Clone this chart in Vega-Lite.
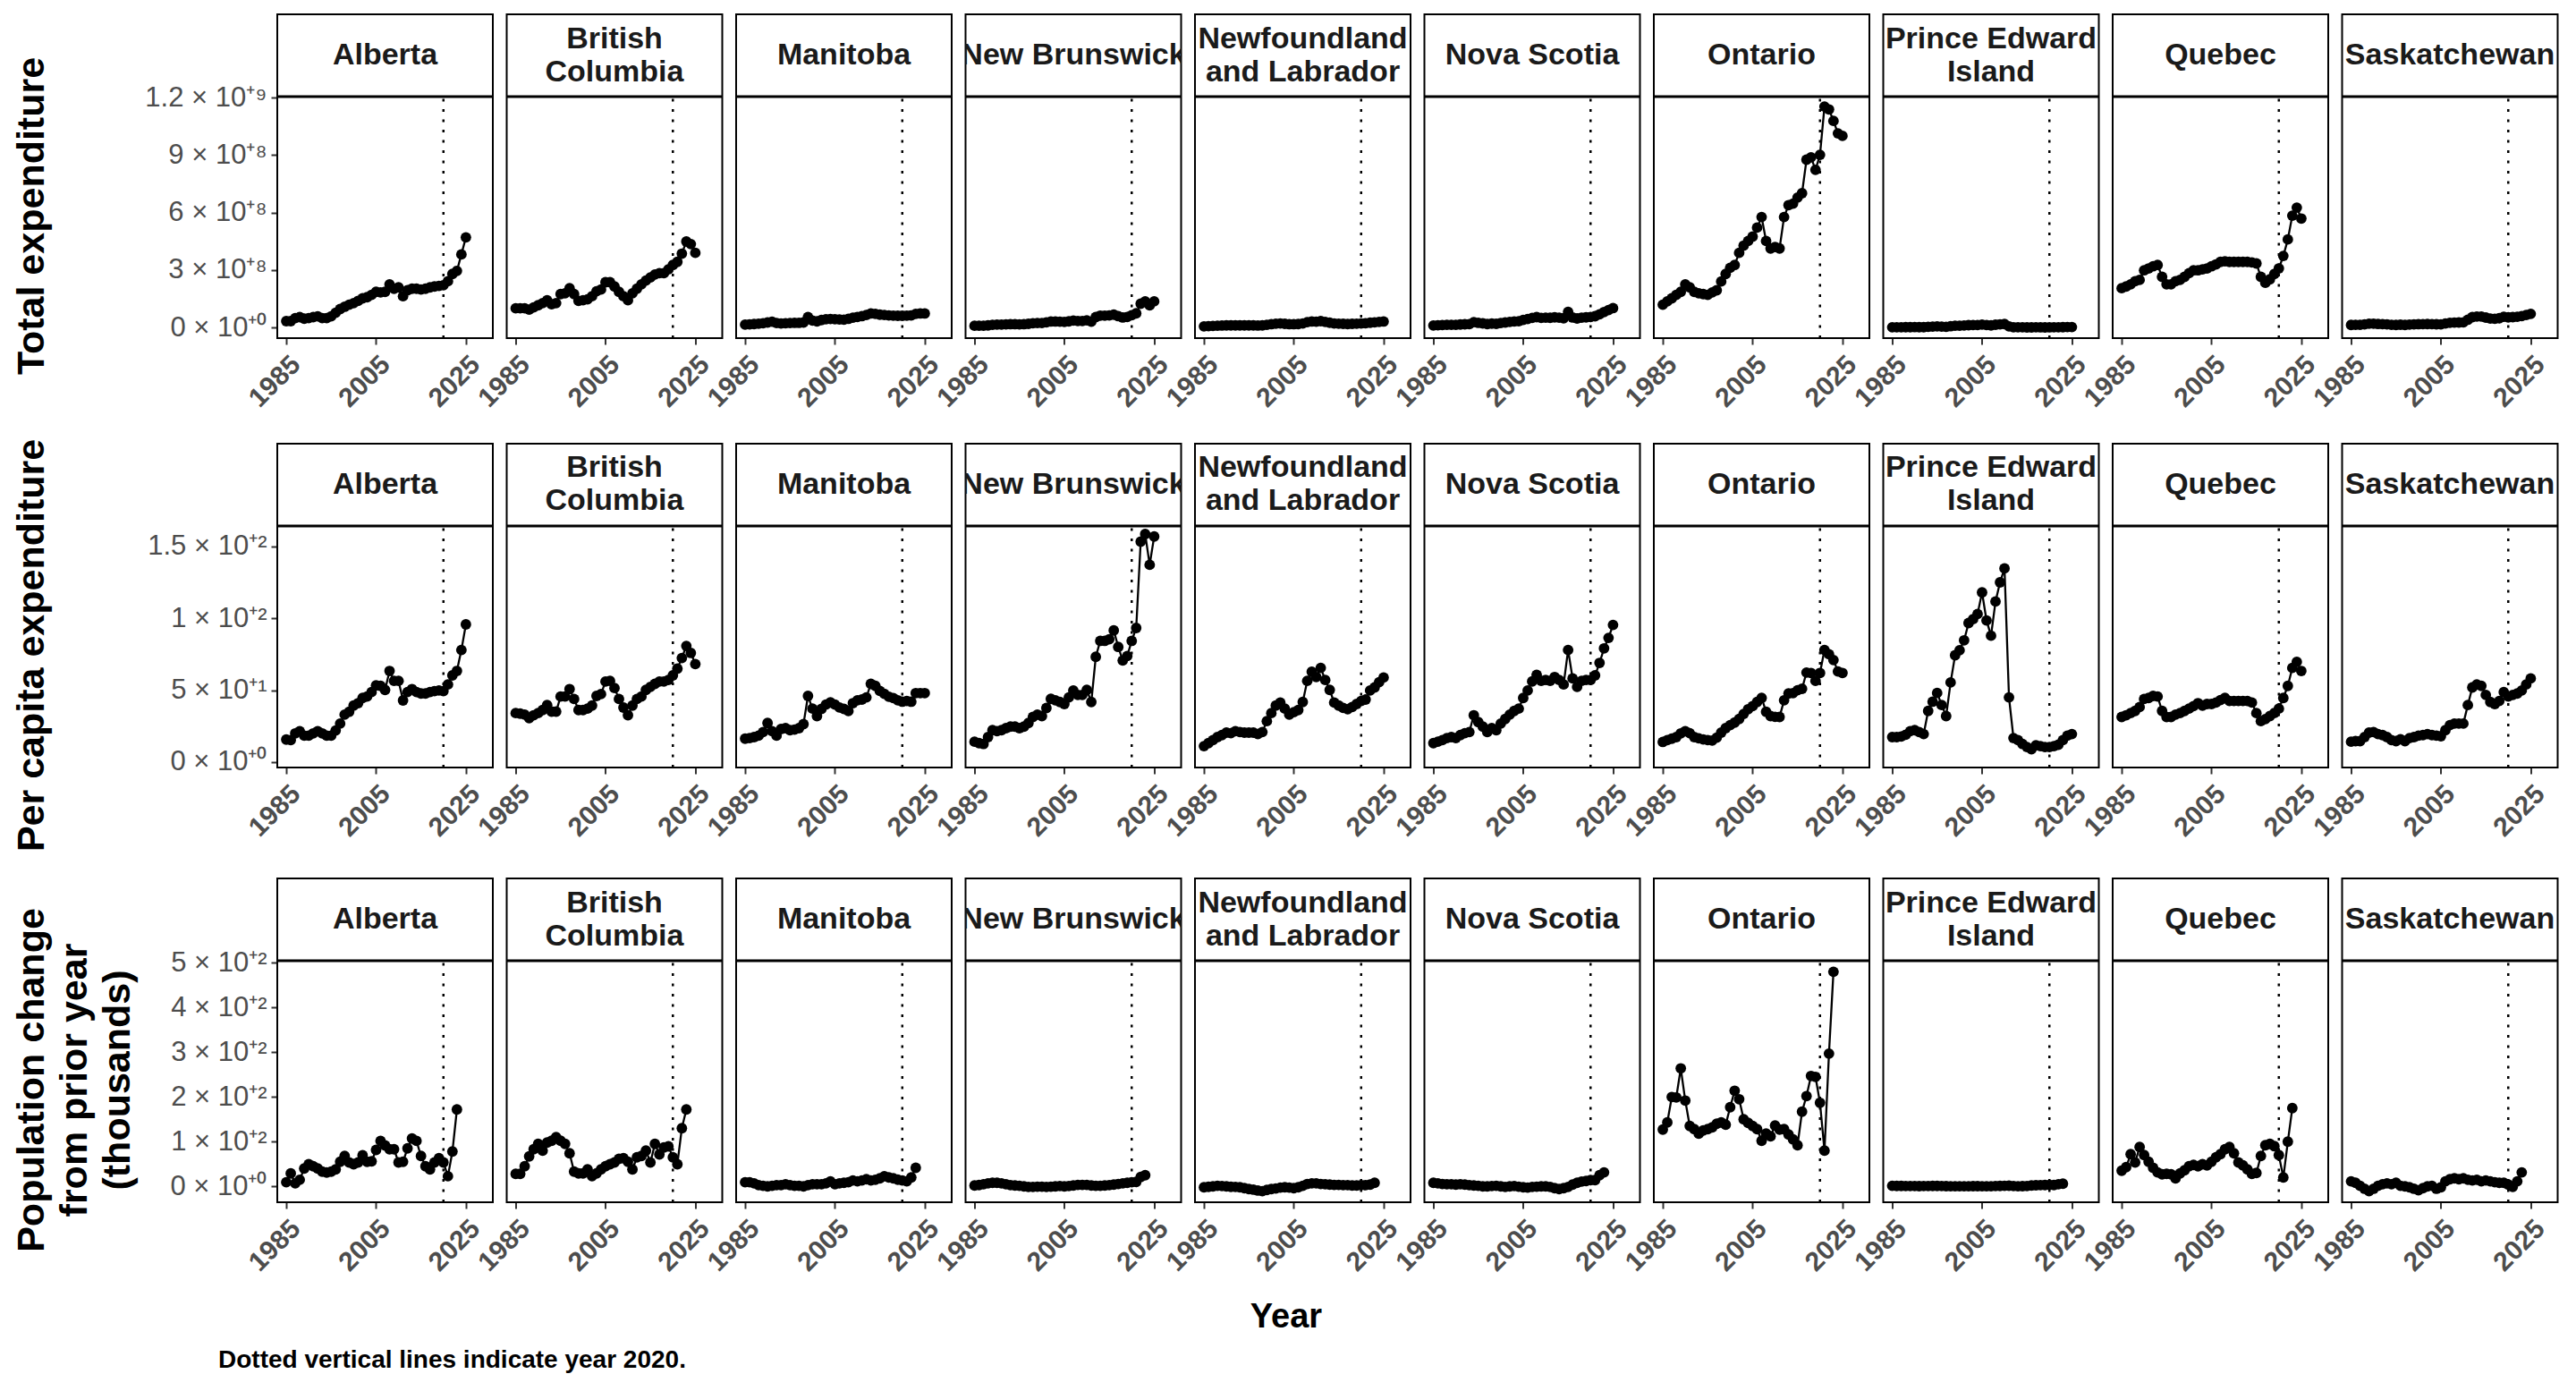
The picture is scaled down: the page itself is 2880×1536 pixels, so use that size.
{
"$schema":"https://vega.github.io/schema/vega-lite/v6.json",
"background":"white",
"padding":{"left":14,"top":15,"right":0,"bottom":0},
"config":{"font":"Liberation Sans","view":{"stroke":"black","strokeWidth":2},
"axis":{"domain":false,"grid":false,"tickColor":"#333333","tickWidth":2,"tickSize":7,"labelColor":"#4d4d4d"},
"axisX":{"labelFontSize":30,"labelFontWeight":"bold","labelAngle":-45,"labelAlign":"right","labelBaseline":"top","labelPadding":7,"labelFlush":false,"labelOverlap":false,"title":null},
"axisY":{"labelFontSize":31,"labelPadding":5,"labelOverlap":false,"titleFontSize":43,"titleFontWeight":"bold","titleColor":"black","titleX":-296,"titleY":225,"titleAngle":-90,"titleAlign":"center","titleBaseline":"top","titleLineHeight":48}},
"spacing":29,
"resolve":{"scale":{"y":"independent"}},
"title":{"text":"Dotted vertical lines indicate year 2020.","orient":"bottom","anchor":"start","frame":"bounds","dx":230,"fontSize":28,"fontWeight":"bold","color":"black","offset":15},
"datasets":{
"total":[
{"prov":"AB","year":1985,"val":34e6},{"prov":"AB","year":1986,"val":34e6},{"prov":"AB","year":1987,"val":50e6},{"prov":"AB","year":1988,"val":55e6},{"prov":"AB","year":1989,"val":47e6},{"prov":"AB","year":1990,"val":50e6},{"prov":"AB","year":1991,"val":55e6},{"prov":"AB","year":1992,"val":59e6},{"prov":"AB","year":1993,"val":50e6},{"prov":"AB","year":1994,"val":50e6},{"prov":"AB","year":1995,"val":59e6},{"prov":"AB","year":1996,"val":78e6},{"prov":"AB","year":1997,"val":97e6},{"prov":"AB","year":1998,"val":109e6},{"prov":"AB","year":1999,"val":120e6},{"prov":"AB","year":2000,"val":128e6},{"prov":"AB","year":2001,"val":140e6},{"prov":"AB","year":2002,"val":153e6},{"prov":"AB","year":2003,"val":159e6},{"prov":"AB","year":2004,"val":171e6},{"prov":"AB","year":2005,"val":187e6},{"prov":"AB","year":2006,"val":184e6},{"prov":"AB","year":2007,"val":187e6},{"prov":"AB","year":2008,"val":226e6},{"prov":"AB","year":2009,"val":203e6},{"prov":"AB","year":2010,"val":210e6},{"prov":"AB","year":2011,"val":164e6},{"prov":"AB","year":2012,"val":195e6},{"prov":"AB","year":2013,"val":203e6},{"prov":"AB","year":2014,"val":203e6},{"prov":"AB","year":2015,"val":199e6},{"prov":"AB","year":2016,"val":203e6},{"prov":"AB","year":2017,"val":210e6},{"prov":"AB","year":2018,"val":215e6},{"prov":"AB","year":2019,"val":218e6},{"prov":"AB","year":2020,"val":221e6},{"prov":"AB","year":2021,"val":242e6},{"prov":"AB","year":2022,"val":280e6},{"prov":"AB","year":2023,"val":296e6},{"prov":"AB","year":2024,"val":382e6},{"prov":"AB","year":2025,"val":471e6},
{"prov":"BC","year":1985,"val":101e6},{"prov":"BC","year":1986,"val":101e6},{"prov":"BC","year":1987,"val":101e6},{"prov":"BC","year":1988,"val":94e6},{"prov":"BC","year":1989,"val":106e6},{"prov":"BC","year":1990,"val":117e6},{"prov":"BC","year":1991,"val":128e6},{"prov":"BC","year":1992,"val":143e6},{"prov":"BC","year":1993,"val":122e6},{"prov":"BC","year":1994,"val":128e6},{"prov":"BC","year":1995,"val":175e6},{"prov":"BC","year":1996,"val":179e6},{"prov":"BC","year":1997,"val":206e6},{"prov":"BC","year":1998,"val":175e6},{"prov":"BC","year":1999,"val":140e6},{"prov":"BC","year":2000,"val":143e6},{"prov":"BC","year":2001,"val":148e6},{"prov":"BC","year":2002,"val":164e6},{"prov":"BC","year":2003,"val":190e6},{"prov":"BC","year":2004,"val":199e6},{"prov":"BC","year":2005,"val":237e6},{"prov":"BC","year":2006,"val":237e6},{"prov":"BC","year":2007,"val":215e6},{"prov":"BC","year":2008,"val":187e6},{"prov":"BC","year":2009,"val":164e6},{"prov":"BC","year":2010,"val":143e6},{"prov":"BC","year":2011,"val":179e6},{"prov":"BC","year":2012,"val":203e6},{"prov":"BC","year":2013,"val":226e6},{"prov":"BC","year":2014,"val":246e6},{"prov":"BC","year":2015,"val":262e6},{"prov":"BC","year":2016,"val":277e6},{"prov":"BC","year":2017,"val":284e6},{"prov":"BC","year":2018,"val":284e6},{"prov":"BC","year":2019,"val":304e6},{"prov":"BC","year":2020,"val":327e6},{"prov":"BC","year":2021,"val":343e6},{"prov":"BC","year":2022,"val":386e6},{"prov":"BC","year":2023,"val":449e6},{"prov":"BC","year":2024,"val":436e6},{"prov":"BC","year":2025,"val":390e6},
{"prov":"MB","year":1985,"val":16e6},{"prov":"MB","year":1986,"val":17e6},{"prov":"MB","year":1987,"val":19e6},{"prov":"MB","year":1988,"val":21e6},{"prov":"MB","year":1989,"val":23e6},{"prov":"MB","year":1990,"val":27e6},{"prov":"MB","year":1991,"val":31e6},{"prov":"MB","year":1992,"val":24e6},{"prov":"MB","year":1993,"val":22e6},{"prov":"MB","year":1994,"val":23e6},{"prov":"MB","year":1995,"val":24e6},{"prov":"MB","year":1996,"val":25e6},{"prov":"MB","year":1997,"val":25e6},{"prov":"MB","year":1998,"val":27e6},{"prov":"MB","year":1999,"val":55e6},{"prov":"MB","year":2000,"val":37e6},{"prov":"MB","year":2001,"val":33e6},{"prov":"MB","year":2002,"val":40e6},{"prov":"MB","year":2003,"val":44e6},{"prov":"MB","year":2004,"val":45e6},{"prov":"MB","year":2005,"val":44e6},{"prov":"MB","year":2006,"val":43e6},{"prov":"MB","year":2007,"val":42e6},{"prov":"MB","year":2008,"val":46e6},{"prov":"MB","year":2009,"val":52e6},{"prov":"MB","year":2010,"val":56e6},{"prov":"MB","year":2011,"val":60e6},{"prov":"MB","year":2012,"val":66e6},{"prov":"MB","year":2013,"val":74e6},{"prov":"MB","year":2014,"val":72e6},{"prov":"MB","year":2015,"val":68e6},{"prov":"MB","year":2016,"val":66e6},{"prov":"MB","year":2017,"val":64e6},{"prov":"MB","year":2018,"val":63e6},{"prov":"MB","year":2019,"val":62e6},{"prov":"MB","year":2020,"val":62e6},{"prov":"MB","year":2021,"val":63e6},{"prov":"MB","year":2022,"val":64e6},{"prov":"MB","year":2023,"val":72e6},{"prov":"MB","year":2024,"val":74e6},{"prov":"MB","year":2025,"val":74e6},
{"prov":"NB","year":1985,"val":10e6},{"prov":"NB","year":1986,"val":10e6},{"prov":"NB","year":1987,"val":10e6},{"prov":"NB","year":1988,"val":12e6},{"prov":"NB","year":1989,"val":15e6},{"prov":"NB","year":1990,"val":16e6},{"prov":"NB","year":1991,"val":16e6},{"prov":"NB","year":1992,"val":17e6},{"prov":"NB","year":1993,"val":18e6},{"prov":"NB","year":1994,"val":18e6},{"prov":"NB","year":1995,"val":17e6},{"prov":"NB","year":1996,"val":18e6},{"prov":"NB","year":1997,"val":20e6},{"prov":"NB","year":1998,"val":23e6},{"prov":"NB","year":1999,"val":24e6},{"prov":"NB","year":2000,"val":24e6},{"prov":"NB","year":2001,"val":28e6},{"prov":"NB","year":2002,"val":32e6},{"prov":"NB","year":2003,"val":32e6},{"prov":"NB","year":2004,"val":31e6},{"prov":"NB","year":2005,"val":30e6},{"prov":"NB","year":2006,"val":33e6},{"prov":"NB","year":2007,"val":37e6},{"prov":"NB","year":2008,"val":35e6},{"prov":"NB","year":2009,"val":35e6},{"prov":"NB","year":2010,"val":38e6},{"prov":"NB","year":2011,"val":31e6},{"prov":"NB","year":2012,"val":55e6},{"prov":"NB","year":2013,"val":63e6},{"prov":"NB","year":2014,"val":63e6},{"prov":"NB","year":2015,"val":64e6},{"prov":"NB","year":2016,"val":68e6},{"prov":"NB","year":2017,"val":60e6},{"prov":"NB","year":2018,"val":53e6},{"prov":"NB","year":2019,"val":56e6},{"prov":"NB","year":2020,"val":65e6},{"prov":"NB","year":2021,"val":75e6},{"prov":"NB","year":2022,"val":125e6},{"prov":"NB","year":2023,"val":137e6},{"prov":"NB","year":2024,"val":117e6},{"prov":"NB","year":2025,"val":137e6},
{"prov":"NL","year":1985,"val":7e6},{"prov":"NL","year":1986,"val":8e6},{"prov":"NL","year":1987,"val":9e6},{"prov":"NL","year":1988,"val":10e6},{"prov":"NL","year":1989,"val":11e6},{"prov":"NL","year":1990,"val":12e6},{"prov":"NL","year":1991,"val":12e6},{"prov":"NL","year":1992,"val":12e6},{"prov":"NL","year":1993,"val":12e6},{"prov":"NL","year":1994,"val":12e6},{"prov":"NL","year":1995,"val":12e6},{"prov":"NL","year":1996,"val":12e6},{"prov":"NL","year":1997,"val":11e6},{"prov":"NL","year":1998,"val":12e6},{"prov":"NL","year":1999,"val":15e6},{"prov":"NL","year":2000,"val":18e6},{"prov":"NL","year":2001,"val":21e6},{"prov":"NL","year":2002,"val":22e6},{"prov":"NL","year":2003,"val":20e6},{"prov":"NL","year":2004,"val":18e6},{"prov":"NL","year":2005,"val":18e6},{"prov":"NL","year":2006,"val":19e6},{"prov":"NL","year":2007,"val":22e6},{"prov":"NL","year":2008,"val":29e6},{"prov":"NL","year":2009,"val":32e6},{"prov":"NL","year":2010,"val":31e6},{"prov":"NL","year":2011,"val":34e6},{"prov":"NL","year":2012,"val":30e6},{"prov":"NL","year":2013,"val":26e6},{"prov":"NL","year":2014,"val":22e6},{"prov":"NL","year":2015,"val":21e6},{"prov":"NL","year":2016,"val":20e6},{"prov":"NL","year":2017,"val":19e6},{"prov":"NL","year":2018,"val":20e6},{"prov":"NL","year":2019,"val":21e6},{"prov":"NL","year":2020,"val":22e6},{"prov":"NL","year":2021,"val":23e6},{"prov":"NL","year":2022,"val":26e6},{"prov":"NL","year":2023,"val":28e6},{"prov":"NL","year":2024,"val":30e6},{"prov":"NL","year":2025,"val":32e6},
{"prov":"NS","year":1985,"val":11.5e6},{"prov":"NS","year":1986,"val":12.4e6},{"prov":"NS","year":1987,"val":13.4e6},{"prov":"NS","year":1988,"val":14.6e6},{"prov":"NS","year":1989,"val":15.2e6},{"prov":"NS","year":1990,"val":14.7e6},{"prov":"NS","year":1991,"val":16.6e6},{"prov":"NS","year":1992,"val":17.8e6},{"prov":"NS","year":1993,"val":18.6e6},{"prov":"NS","year":1994,"val":29e6},{"prov":"NS","year":1995,"val":25e6},{"prov":"NS","year":1996,"val":22.3e6},{"prov":"NS","year":1997,"val":18.9e6},{"prov":"NS","year":1998,"val":21.3e6},{"prov":"NS","year":1999,"val":20e6},{"prov":"NS","year":2000,"val":24.2e6},{"prov":"NS","year":2001,"val":27.1e6},{"prov":"NS","year":2002,"val":29.8e6},{"prov":"NS","year":2003,"val":32.2e6},{"prov":"NS","year":2004,"val":33.7e6},{"prov":"NS","year":2005,"val":40.4e6},{"prov":"NS","year":2006,"val":45.1e6},{"prov":"NS","year":2007,"val":50.8e6},{"prov":"NS","year":2008,"val":55e6},{"prov":"NS","year":2009,"val":51.3e6},{"prov":"NS","year":2010,"val":52e6},{"prov":"NS","year":2011,"val":51.6e6},{"prov":"NS","year":2012,"val":54e6},{"prov":"NS","year":2013,"val":52e6},{"prov":"NS","year":2014,"val":49.2e6},{"prov":"NS","year":2015,"val":82e6},{"prov":"NS","year":2016,"val":53e6},{"prov":"NS","year":2017,"val":48e6},{"prov":"NS","year":2018,"val":52.5e6},{"prov":"NS","year":2019,"val":54e6},{"prov":"NS","year":2020,"val":55.7e6},{"prov":"NS","year":2021,"val":59.8e6},{"prov":"NS","year":2022,"val":69.9e6},{"prov":"NS","year":2023,"val":81.7e6},{"prov":"NS","year":2024,"val":91.6e6},{"prov":"NS","year":2025,"val":102e6},
{"prov":"ON","year":1985,"val":120e6},{"prov":"ON","year":1986,"val":137e6},{"prov":"ON","year":1987,"val":153e6},{"prov":"ON","year":1988,"val":171e6},{"prov":"ON","year":1989,"val":187e6},{"prov":"ON","year":1990,"val":226e6},{"prov":"ON","year":1991,"val":210e6},{"prov":"ON","year":1992,"val":187e6},{"prov":"ON","year":1993,"val":179e6},{"prov":"ON","year":1994,"val":175e6},{"prov":"ON","year":1995,"val":171e6},{"prov":"ON","year":1996,"val":184e6},{"prov":"ON","year":1997,"val":195e6},{"prov":"ON","year":1998,"val":241e6},{"prov":"ON","year":1999,"val":280e6},{"prov":"ON","year":2000,"val":312e6},{"prov":"ON","year":2001,"val":327e6},{"prov":"ON","year":2002,"val":390e6},{"prov":"ON","year":2003,"val":428e6},{"prov":"ON","year":2004,"val":452e6},{"prov":"ON","year":2005,"val":475e6},{"prov":"ON","year":2006,"val":522e6},{"prov":"ON","year":2007,"val":577e6},{"prov":"ON","year":2008,"val":452e6},{"prov":"ON","year":2009,"val":413e6},{"prov":"ON","year":2010,"val":421e6},{"prov":"ON","year":2011,"val":413e6},{"prov":"ON","year":2012,"val":577e6},{"prov":"ON","year":2013,"val":639e6},{"prov":"ON","year":2014,"val":647e6},{"prov":"ON","year":2015,"val":678e6},{"prov":"ON","year":2016,"val":701e6},{"prov":"ON","year":2017,"val":876e6},{"prov":"ON","year":2018,"val":888e6},{"prov":"ON","year":2019,"val":823e6},{"prov":"ON","year":2020,"val":901e6},{"prov":"ON","year":2021,"val":1153e6},{"prov":"ON","year":2022,"val":1138e6},{"prov":"ON","year":2023,"val":1078e6},{"prov":"ON","year":2024,"val":1013e6},{"prov":"ON","year":2025,"val":1000e6},
{"prov":"PE","year":1985,"val":2.2e6},{"prov":"PE","year":1986,"val":2.2e6},{"prov":"PE","year":1987,"val":2.3e6},{"prov":"PE","year":1988,"val":2.5e6},{"prov":"PE","year":1989,"val":2.8e6},{"prov":"PE","year":1990,"val":2.9e6},{"prov":"PE","year":1991,"val":2.7e6},{"prov":"PE","year":1992,"val":2.6e6},{"prov":"PE","year":1993,"val":4.7e6},{"prov":"PE","year":1994,"val":5.6e6},{"prov":"PE","year":1995,"val":6.5e6},{"prov":"PE","year":1996,"val":5.4e6},{"prov":"PE","year":1997,"val":4.3e6},{"prov":"PE","year":1998,"val":7.5e6},{"prov":"PE","year":1999,"val":10e6},{"prov":"PE","year":2000,"val":10.5e6},{"prov":"PE","year":2001,"val":11.5e6},{"prov":"PE","year":2002,"val":13.1e6},{"prov":"PE","year":2003,"val":13.5e6},{"prov":"PE","year":2004,"val":14e6},{"prov":"PE","year":2005,"val":16e6},{"prov":"PE","year":2006,"val":13.4e6},{"prov":"PE","year":2007,"val":12e6},{"prov":"PE","year":2008,"val":15.3e6},{"prov":"PE","year":2009,"val":17.3e6},{"prov":"PE","year":2010,"val":18.9e6},{"prov":"PE","year":2011,"val":6.4e6},{"prov":"PE","year":2012,"val":2.4e6},{"prov":"PE","year":2013,"val":2.2e6},{"prov":"PE","year":2014,"val":1.8e6},{"prov":"PE","year":2015,"val":1.5e6},{"prov":"PE","year":2016,"val":1.3e6},{"prov":"PE","year":2017,"val":1.8e6},{"prov":"PE","year":2018,"val":1.7e6},{"prov":"PE","year":2019,"val":1.6e6},{"prov":"PE","year":2020,"val":1.7e6},{"prov":"PE","year":2021,"val":1.8e6},{"prov":"PE","year":2022,"val":2e6},{"prov":"PE","year":2023,"val":2.6e6},{"prov":"PE","year":2024,"val":3.2e6},{"prov":"PE","year":2025,"val":3.4e6},
{"prov":"QC","year":1985,"val":206e6},{"prov":"QC","year":1986,"val":215e6},{"prov":"QC","year":1987,"val":226e6},{"prov":"QC","year":1988,"val":242e6},{"prov":"QC","year":1989,"val":249e6},{"prov":"QC","year":1990,"val":299e6},{"prov":"QC","year":1991,"val":309e6},{"prov":"QC","year":1992,"val":320e6},{"prov":"QC","year":1993,"val":327e6},{"prov":"QC","year":1994,"val":265e6},{"prov":"QC","year":1995,"val":226e6},{"prov":"QC","year":1996,"val":226e6},{"prov":"QC","year":1997,"val":242e6},{"prov":"QC","year":1998,"val":249e6},{"prov":"QC","year":1999,"val":265e6},{"prov":"QC","year":2000,"val":284e6},{"prov":"QC","year":2001,"val":299e6},{"prov":"QC","year":2002,"val":299e6},{"prov":"QC","year":2003,"val":304e6},{"prov":"QC","year":2004,"val":309e6},{"prov":"QC","year":2005,"val":320e6},{"prov":"QC","year":2006,"val":330e6},{"prov":"QC","year":2007,"val":343e6},{"prov":"QC","year":2008,"val":346e6},{"prov":"QC","year":2009,"val":343e6},{"prov":"QC","year":2010,"val":343e6},{"prov":"QC","year":2011,"val":343e6},{"prov":"QC","year":2012,"val":343e6},{"prov":"QC","year":2013,"val":343e6},{"prov":"QC","year":2014,"val":340e6},{"prov":"QC","year":2015,"val":335e6},{"prov":"QC","year":2016,"val":265e6},{"prov":"QC","year":2017,"val":234e6},{"prov":"QC","year":2018,"val":252e6},{"prov":"QC","year":2019,"val":280e6},{"prov":"QC","year":2020,"val":309e6},{"prov":"QC","year":2021,"val":374e6},{"prov":"QC","year":2022,"val":460e6},{"prov":"QC","year":2023,"val":584e6},{"prov":"QC","year":2024,"val":626e6},{"prov":"QC","year":2025,"val":569e6},
{"prov":"SK","year":1985,"val":14.4e6},{"prov":"SK","year":1986,"val":14.8e6},{"prov":"SK","year":1987,"val":14.8e6},{"prov":"SK","year":1988,"val":17.5e6},{"prov":"SK","year":1989,"val":20.5e6},{"prov":"SK","year":1990,"val":20.6e6},{"prov":"SK","year":1991,"val":19.2e6},{"prov":"SK","year":1992,"val":18.5e6},{"prov":"SK","year":1993,"val":17.1e6},{"prov":"SK","year":1994,"val":15e6},{"prov":"SK","year":1995,"val":14.3e6},{"prov":"SK","year":1996,"val":15.6e6},{"prov":"SK","year":1997,"val":14.3e6},{"prov":"SK","year":1998,"val":16.4e6},{"prov":"SK","year":1999,"val":17.1e6},{"prov":"SK","year":2000,"val":18e6},{"prov":"SK","year":2001,"val":18.3e6},{"prov":"SK","year":2002,"val":18.9e6},{"prov":"SK","year":2003,"val":18.3e6},{"prov":"SK","year":2004,"val":17.9e6},{"prov":"SK","year":2005,"val":17.5e6},{"prov":"SK","year":2006,"val":21.6e6},{"prov":"SK","year":2007,"val":25.2e6},{"prov":"SK","year":2008,"val":26.5e6},{"prov":"SK","year":2009,"val":27e6},{"prov":"SK","year":2010,"val":27.6e6},{"prov":"SK","year":2011,"val":41.3e6},{"prov":"SK","year":2012,"val":55e6},{"prov":"SK","year":2013,"val":58e6},{"prov":"SK","year":2014,"val":58e6},{"prov":"SK","year":2015,"val":52.8e6},{"prov":"SK","year":2016,"val":47.6e6},{"prov":"SK","year":2017,"val":46.5e6},{"prov":"SK","year":2018,"val":49.3e6},{"prov":"SK","year":2019,"val":56.9e6},{"prov":"SK","year":2020,"val":53.8e6},{"prov":"SK","year":2021,"val":55.1e6},{"prov":"SK","year":2022,"val":56.8e6},{"prov":"SK","year":2023,"val":60.2e6},{"prov":"SK","year":2024,"val":66.4e6},{"prov":"SK","year":2025,"val":72.2e6}
],
"percap":[
{"prov":"AB","year":1985,"val":15.7},{"prov":"AB","year":1986,"val":15.3},{"prov":"AB","year":1987,"val":20},{"prov":"AB","year":1988,"val":21.5},{"prov":"AB","year":1989,"val":18.4},{"prov":"AB","year":1990,"val":18.4},{"prov":"AB","year":1991,"val":20},{"prov":"AB","year":1992,"val":21.5},{"prov":"AB","year":1993,"val":20},{"prov":"AB","year":1994,"val":18.4},{"prov":"AB","year":1995,"val":18.4},{"prov":"AB","year":1996,"val":22},{"prov":"AB","year":1997,"val":26.8},{"prov":"AB","year":1998,"val":33},{"prov":"AB","year":1999,"val":35},{"prov":"AB","year":2000,"val":39.3},{"prov":"AB","year":2001,"val":41},{"prov":"AB","year":2002,"val":44.6},{"prov":"AB","year":2003,"val":45.6},{"prov":"AB","year":2004,"val":48.7},{"prov":"AB","year":2005,"val":53.3},{"prov":"AB","year":2006,"val":53},{"prov":"AB","year":2007,"val":50.2},{"prov":"AB","year":2008,"val":63.4},{"prov":"AB","year":2009,"val":56.5},{"prov":"AB","year":2010,"val":56.5},{"prov":"AB","year":2011,"val":42.9},{"prov":"AB","year":2012,"val":48.7},{"prov":"AB","year":2013,"val":50.8},{"prov":"AB","year":2014,"val":48.7},{"prov":"AB","year":2015,"val":47.7},{"prov":"AB","year":2016,"val":47.7},{"prov":"AB","year":2017,"val":48.7},{"prov":"AB","year":2018,"val":49.4},{"prov":"AB","year":2019,"val":49.8},{"prov":"AB","year":2020,"val":49.4},{"prov":"AB","year":2021,"val":54},{"prov":"AB","year":2022,"val":60.3},{"prov":"AB","year":2023,"val":63.4},{"prov":"AB","year":2024,"val":78},{"prov":"AB","year":2025,"val":95.8},
{"prov":"BC","year":1985,"val":34.1},{"prov":"BC","year":1986,"val":33.7},{"prov":"BC","year":1987,"val":33},{"prov":"BC","year":1988,"val":30.5},{"prov":"BC","year":1989,"val":32.6},{"prov":"BC","year":1990,"val":34.1},{"prov":"BC","year":1991,"val":36.2},{"prov":"BC","year":1992,"val":39.7},{"prov":"BC","year":1993,"val":35.1},{"prov":"BC","year":1994,"val":35.1},{"prov":"BC","year":1995,"val":45.6},{"prov":"BC","year":1996,"val":45.6},{"prov":"BC","year":1997,"val":50.8},{"prov":"BC","year":1998,"val":43.9},{"prov":"BC","year":1999,"val":36.2},{"prov":"BC","year":2000,"val":36.2},{"prov":"BC","year":2001,"val":37.2},{"prov":"BC","year":2002,"val":39.3},{"prov":"BC","year":2003,"val":46},{"prov":"BC","year":2004,"val":47.3},{"prov":"BC","year":2005,"val":56},{"prov":"BC","year":2006,"val":56.5},{"prov":"BC","year":2007,"val":51.5},{"prov":"BC","year":2008,"val":43.9},{"prov":"BC","year":2009,"val":37.9},{"prov":"BC","year":2010,"val":32.6},{"prov":"BC","year":2011,"val":39.3},{"prov":"BC","year":2012,"val":43.9},{"prov":"BC","year":2013,"val":45.6},{"prov":"BC","year":2014,"val":50.2},{"prov":"BC","year":2015,"val":52.3},{"prov":"BC","year":2016,"val":54.4},{"prov":"BC","year":2017,"val":56},{"prov":"BC","year":2018,"val":56},{"prov":"BC","year":2019,"val":57.1},{"prov":"BC","year":2020,"val":60.3},{"prov":"BC","year":2021,"val":65},{"prov":"BC","year":2022,"val":72.4},{"prov":"BC","year":2023,"val":80.8},{"prov":"BC","year":2024,"val":75.9},{"prov":"BC","year":2025,"val":68.2},
{"prov":"MB","year":1985,"val":16.3},{"prov":"MB","year":1986,"val":16.7},{"prov":"MB","year":1987,"val":17.4},{"prov":"MB","year":1988,"val":18.4},{"prov":"MB","year":1989,"val":20.9},{"prov":"MB","year":1990,"val":27.2},{"prov":"MB","year":1991,"val":21.5},{"prov":"MB","year":1992,"val":18.4},{"prov":"MB","year":1993,"val":23},{"prov":"MB","year":1994,"val":23.6},{"prov":"MB","year":1995,"val":22.2},{"prov":"MB","year":1996,"val":22.6},{"prov":"MB","year":1997,"val":23.6},{"prov":"MB","year":1998,"val":26.4},{"prov":"MB","year":1999,"val":46},{"prov":"MB","year":2000,"val":37.2},{"prov":"MB","year":2001,"val":32},{"prov":"MB","year":2002,"val":37},{"prov":"MB","year":2003,"val":40},{"prov":"MB","year":2004,"val":41.5},{"prov":"MB","year":2005,"val":40},{"prov":"MB","year":2006,"val":38},{"prov":"MB","year":2007,"val":37},{"prov":"MB","year":2008,"val":35.5},{"prov":"MB","year":2009,"val":41},{"prov":"MB","year":2010,"val":43},{"prov":"MB","year":2011,"val":43.5},{"prov":"MB","year":2012,"val":45},{"prov":"MB","year":2013,"val":54.4},{"prov":"MB","year":2014,"val":53},{"prov":"MB","year":2015,"val":49.5},{"prov":"MB","year":2016,"val":47.5},{"prov":"MB","year":2017,"val":45.5},{"prov":"MB","year":2018,"val":44.5},{"prov":"MB","year":2019,"val":43},{"prov":"MB","year":2020,"val":42},{"prov":"MB","year":2021,"val":42.5},{"prov":"MB","year":2022,"val":42},{"prov":"MB","year":2023,"val":48},{"prov":"MB","year":2024,"val":48},{"prov":"MB","year":2025,"val":48},
{"prov":"NB","year":1985,"val":14.2},{"prov":"NB","year":1986,"val":13.2},{"prov":"NB","year":1987,"val":12.6},{"prov":"NB","year":1988,"val":17.4},{"prov":"NB","year":1989,"val":22.2},{"prov":"NB","year":1990,"val":21.5},{"prov":"NB","year":1991,"val":22.2},{"prov":"NB","year":1992,"val":23.6},{"prov":"NB","year":1993,"val":24.7},{"prov":"NB","year":1994,"val":24.7},{"prov":"NB","year":1995,"val":23.6},{"prov":"NB","year":1996,"val":24.7},{"prov":"NB","year":1997,"val":27.2},{"prov":"NB","year":1998,"val":31.4},{"prov":"NB","year":1999,"val":33},{"prov":"NB","year":2000,"val":32},{"prov":"NB","year":2001,"val":37.6},{"prov":"NB","year":2002,"val":44},{"prov":"NB","year":2003,"val":43},{"prov":"NB","year":2004,"val":41.8},{"prov":"NB","year":2005,"val":40.4},{"prov":"NB","year":2006,"val":45},{"prov":"NB","year":2007,"val":49.8},{"prov":"NB","year":2008,"val":46.7},{"prov":"NB","year":2009,"val":46.7},{"prov":"NB","year":2010,"val":50.2},{"prov":"NB","year":2011,"val":41.8},{"prov":"NB","year":2012,"val":73.2},{"prov":"NB","year":2013,"val":84.3},{"prov":"NB","year":2014,"val":84.3},{"prov":"NB","year":2015,"val":85.4},{"prov":"NB","year":2016,"val":91.6},{"prov":"NB","year":2017,"val":80.1},{"prov":"NB","year":2018,"val":70.7},{"prov":"NB","year":2019,"val":73.8},{"prov":"NB","year":2020,"val":84.3},{"prov":"NB","year":2021,"val":93.3},{"prov":"NB","year":2022,"val":153.3},{"prov":"NB","year":2023,"val":158.6},{"prov":"NB","year":2024,"val":137.2},{"prov":"NB","year":2025,"val":156.9},
{"prov":"NL","year":1985,"val":11.1},{"prov":"NL","year":1986,"val":13.2},{"prov":"NL","year":1987,"val":15.3},{"prov":"NL","year":1988,"val":17.4},{"prov":"NL","year":1989,"val":18.8},{"prov":"NL","year":1990,"val":20.5},{"prov":"NL","year":1991,"val":20.1},{"prov":"NL","year":1992,"val":21.5},{"prov":"NL","year":1993,"val":20.9},{"prov":"NL","year":1994,"val":20.5},{"prov":"NL","year":1995,"val":20.5},{"prov":"NL","year":1996,"val":20.5},{"prov":"NL","year":1997,"val":19.5},{"prov":"NL","year":1998,"val":20.9},{"prov":"NL","year":1999,"val":28.5},{"prov":"NL","year":2000,"val":34.1},{"prov":"NL","year":2001,"val":39.3},{"prov":"NL","year":2002,"val":41.4},{"prov":"NL","year":2003,"val":37.2},{"prov":"NL","year":2004,"val":33},{"prov":"NL","year":2005,"val":34.7},{"prov":"NL","year":2006,"val":36.2},{"prov":"NL","year":2007,"val":41.8},{"prov":"NL","year":2008,"val":56.5},{"prov":"NL","year":2009,"val":62.8},{"prov":"NL","year":2010,"val":59.2},{"prov":"NL","year":2011,"val":65.5},{"prov":"NL","year":2012,"val":57.1},{"prov":"NL","year":2013,"val":50.2},{"prov":"NL","year":2014,"val":41.4},{"prov":"NL","year":2015,"val":39.3},{"prov":"NL","year":2016,"val":37.7},{"prov":"NL","year":2017,"val":36.8},{"prov":"NL","year":2018,"val":38.3},{"prov":"NL","year":2019,"val":40.4},{"prov":"NL","year":2020,"val":42.5},{"prov":"NL","year":2021,"val":43.5},{"prov":"NL","year":2022,"val":49.8},{"prov":"NL","year":2023,"val":51.9},{"prov":"NL","year":2024,"val":55.6},{"prov":"NL","year":2025,"val":58.8},
{"prov":"NS","year":1985,"val":13.2},{"prov":"NS","year":1986,"val":14.2},{"prov":"NS","year":1987,"val":15.3},{"prov":"NS","year":1988,"val":16.7},{"prov":"NS","year":1989,"val":17.4},{"prov":"NS","year":1990,"val":16.7},{"prov":"NS","year":1991,"val":18.8},{"prov":"NS","year":1992,"val":20.1},{"prov":"NS","year":1993,"val":20.9},{"prov":"NS","year":1994,"val":32.6},{"prov":"NS","year":1995,"val":27.8},{"prov":"NS","year":1996,"val":24.7},{"prov":"NS","year":1997,"val":20.9},{"prov":"NS","year":1998,"val":23.6},{"prov":"NS","year":1999,"val":22.2},{"prov":"NS","year":2000,"val":26.8},{"prov":"NS","year":2001,"val":30},{"prov":"NS","year":2002,"val":33},{"prov":"NS","year":2003,"val":35.6},{"prov":"NS","year":2004,"val":37.2},{"prov":"NS","year":2005,"val":44.6},{"prov":"NS","year":2006,"val":49.8},{"prov":"NS","year":2007,"val":56.1},{"prov":"NS","year":2008,"val":60.7},{"prov":"NS","year":2009,"val":56.5},{"prov":"NS","year":2010,"val":57.1},{"prov":"NS","year":2011,"val":56.5},{"prov":"NS","year":2012,"val":59.2},{"prov":"NS","year":2013,"val":57.1},{"prov":"NS","year":2014,"val":54},{"prov":"NS","year":2015,"val":78},{"prov":"NS","year":2016,"val":58.2},{"prov":"NS","year":2017,"val":52.3},{"prov":"NS","year":2018,"val":56.5},{"prov":"NS","year":2019,"val":57.1},{"prov":"NS","year":2020,"val":57.1},{"prov":"NS","year":2021,"val":60.3},{"prov":"NS","year":2022,"val":69},{"prov":"NS","year":2023,"val":79.1},{"prov":"NS","year":2024,"val":86.4},{"prov":"NS","year":2025,"val":95.4},
{"prov":"ON","year":1985,"val":14},{"prov":"ON","year":1986,"val":15.3},{"prov":"ON","year":1987,"val":16.3},{"prov":"ON","year":1988,"val":17.4},{"prov":"ON","year":1989,"val":20},{"prov":"ON","year":1990,"val":21.5},{"prov":"ON","year":1991,"val":20.1},{"prov":"ON","year":1992,"val":17.4},{"prov":"ON","year":1993,"val":16.5},{"prov":"ON","year":1994,"val":15.8},{"prov":"ON","year":1995,"val":15.3},{"prov":"ON","year":1996,"val":15},{"prov":"ON","year":1997,"val":17},{"prov":"ON","year":1998,"val":20.5},{"prov":"ON","year":1999,"val":23.6},{"prov":"ON","year":2000,"val":25.7},{"prov":"ON","year":2001,"val":27.5},{"prov":"ON","year":2002,"val":30},{"prov":"ON","year":2003,"val":33.5},{"prov":"ON","year":2004,"val":36.8},{"prov":"ON","year":2005,"val":38.9},{"prov":"ON","year":2006,"val":41.8},{"prov":"ON","year":2007,"val":44.6},{"prov":"ON","year":2008,"val":35},{"prov":"ON","year":2009,"val":32},{"prov":"ON","year":2010,"val":31.5},{"prov":"ON","year":2011,"val":31.4},{"prov":"ON","year":2012,"val":43},{"prov":"ON","year":2013,"val":47.7},{"prov":"ON","year":2014,"val":48},{"prov":"ON","year":2015,"val":50},{"prov":"ON","year":2016,"val":51},{"prov":"ON","year":2017,"val":62.3},{"prov":"ON","year":2018,"val":62},{"prov":"ON","year":2019,"val":56.5},{"prov":"ON","year":2020,"val":62},{"prov":"ON","year":2021,"val":78},{"prov":"ON","year":2022,"val":75},{"prov":"ON","year":2023,"val":71},{"prov":"ON","year":2024,"val":63},{"prov":"ON","year":2025,"val":62},
{"prov":"PE","year":1985,"val":17.4},{"prov":"PE","year":1986,"val":17.4},{"prov":"PE","year":1987,"val":17.8},{"prov":"PE","year":1988,"val":19},{"prov":"PE","year":1989,"val":21.5},{"prov":"PE","year":1990,"val":22.2},{"prov":"PE","year":1991,"val":20.9},{"prov":"PE","year":1992,"val":19.5},{"prov":"PE","year":1993,"val":35.6},{"prov":"PE","year":1994,"val":42},{"prov":"PE","year":1995,"val":48.1},{"prov":"PE","year":1996,"val":39.7},{"prov":"PE","year":1997,"val":32},{"prov":"PE","year":1998,"val":55.4},{"prov":"PE","year":1999,"val":74.3},{"prov":"PE","year":2000,"val":77.8},{"prov":"PE","year":2001,"val":84.7},{"prov":"PE","year":2002,"val":96.7},{"prov":"PE","year":2003,"val":99.4},{"prov":"PE","year":2004,"val":103},{"prov":"PE","year":2005,"val":118},{"prov":"PE","year":2006,"val":98.5},{"prov":"PE","year":2007,"val":87.9},{"prov":"PE","year":2008,"val":111.7},{"prov":"PE","year":2009,"val":125},{"prov":"PE","year":2010,"val":134.7},{"prov":"PE","year":2011,"val":45},{"prov":"PE","year":2012,"val":16.7},{"prov":"PE","year":2013,"val":15.3},{"prov":"PE","year":2014,"val":12.6},{"prov":"PE","year":2015,"val":10.5},{"prov":"PE","year":2016,"val":9},{"prov":"PE","year":2017,"val":11.7},{"prov":"PE","year":2018,"val":11.1},{"prov":"PE","year":2019,"val":10.5},{"prov":"PE","year":2020,"val":10.5},{"prov":"PE","year":2021,"val":11.1},{"prov":"PE","year":2022,"val":12.1},{"prov":"PE","year":2023,"val":15.3},{"prov":"PE","year":2024,"val":18.4},{"prov":"PE","year":2025,"val":19.5},
{"prov":"QC","year":1985,"val":31.4},{"prov":"QC","year":1986,"val":32.6},{"prov":"QC","year":1987,"val":34.1},{"prov":"QC","year":1988,"val":35.6},{"prov":"QC","year":1989,"val":38.3},{"prov":"QC","year":1990,"val":43.9},{"prov":"QC","year":1991,"val":44.6},{"prov":"QC","year":1992,"val":46},{"prov":"QC","year":1993,"val":45.6},{"prov":"QC","year":1994,"val":35.6},{"prov":"QC","year":1995,"val":31.4},{"prov":"QC","year":1996,"val":31.4},{"prov":"QC","year":1997,"val":33},{"prov":"QC","year":1998,"val":34.1},{"prov":"QC","year":1999,"val":35.6},{"prov":"QC","year":2000,"val":37.2},{"prov":"QC","year":2001,"val":38.9},{"prov":"QC","year":2002,"val":41},{"prov":"QC","year":2003,"val":39.3},{"prov":"QC","year":2004,"val":40.4},{"prov":"QC","year":2005,"val":40.4},{"prov":"QC","year":2006,"val":41.4},{"prov":"QC","year":2007,"val":43.1},{"prov":"QC","year":2008,"val":44.6},{"prov":"QC","year":2009,"val":42.5},{"prov":"QC","year":2010,"val":42.5},{"prov":"QC","year":2011,"val":42.5},{"prov":"QC","year":2012,"val":42.5},{"prov":"QC","year":2013,"val":42.5},{"prov":"QC","year":2014,"val":41.4},{"prov":"QC","year":2015,"val":34.1},{"prov":"QC","year":2016,"val":28.5},{"prov":"QC","year":2017,"val":29.9},{"prov":"QC","year":2018,"val":32},{"prov":"QC","year":2019,"val":34.1},{"prov":"QC","year":2020,"val":37.2},{"prov":"QC","year":2021,"val":44.6},{"prov":"QC","year":2022,"val":53},{"prov":"QC","year":2023,"val":65.5},{"prov":"QC","year":2024,"val":69.7},{"prov":"QC","year":2025,"val":63.4},
{"prov":"SK","year":1985,"val":14.2},{"prov":"SK","year":1986,"val":14.6},{"prov":"SK","year":1987,"val":14.6},{"prov":"SK","year":1988,"val":17.4},{"prov":"SK","year":1989,"val":20.5},{"prov":"SK","year":1990,"val":20.9},{"prov":"SK","year":1991,"val":19.5},{"prov":"SK","year":1992,"val":18.8},{"prov":"SK","year":1993,"val":17.4},{"prov":"SK","year":1994,"val":15.3},{"prov":"SK","year":1995,"val":14.6},{"prov":"SK","year":1996,"val":15.9},{"prov":"SK","year":1997,"val":14.6},{"prov":"SK","year":1998,"val":16.7},{"prov":"SK","year":1999,"val":17.4},{"prov":"SK","year":2000,"val":18.4},{"prov":"SK","year":2001,"val":18.8},{"prov":"SK","year":2002,"val":19.5},{"prov":"SK","year":2003,"val":18.8},{"prov":"SK","year":2004,"val":18.4},{"prov":"SK","year":2005,"val":18},{"prov":"SK","year":2006,"val":22.2},{"prov":"SK","year":2007,"val":25.7},{"prov":"SK","year":2008,"val":26.8},{"prov":"SK","year":2009,"val":26.8},{"prov":"SK","year":2010,"val":26.8},{"prov":"SK","year":2011,"val":39.7},{"prov":"SK","year":2012,"val":51.9},{"prov":"SK","year":2013,"val":54},{"prov":"SK","year":2014,"val":53},{"prov":"SK","year":2015,"val":46.7},{"prov":"SK","year":2016,"val":41.8},{"prov":"SK","year":2017,"val":40.4},{"prov":"SK","year":2018,"val":42.5},{"prov":"SK","year":2019,"val":48.7},{"prov":"SK","year":2020,"val":45.6},{"prov":"SK","year":2021,"val":46.7},{"prov":"SK","year":2022,"val":47.7},{"prov":"SK","year":2023,"val":49.8},{"prov":"SK","year":2024,"val":54},{"prov":"SK","year":2025,"val":58.2}
],
"popchg":[
{"prov":"AB","year":1985,"val":9.4},{"prov":"AB","year":1986,"val":29},{"prov":"AB","year":1987,"val":6.7},{"prov":"AB","year":1988,"val":14.7},{"prov":"AB","year":1989,"val":40},{"prov":"AB","year":1990,"val":49.5},{"prov":"AB","year":1991,"val":45},{"prov":"AB","year":1992,"val":40},{"prov":"AB","year":1993,"val":33},{"prov":"AB","year":1994,"val":31},{"prov":"AB","year":1995,"val":33},{"prov":"AB","year":1996,"val":38},{"prov":"AB","year":1997,"val":55},{"prov":"AB","year":1998,"val":68},{"prov":"AB","year":1999,"val":53.5},{"prov":"AB","year":2000,"val":49.5},{"prov":"AB","year":2001,"val":53.5},{"prov":"AB","year":2002,"val":69.6},{"prov":"AB","year":2003,"val":55},{"prov":"AB","year":2004,"val":56},{"prov":"AB","year":2005,"val":81.6},{"prov":"AB","year":2006,"val":101.7},{"prov":"AB","year":2007,"val":91.6},{"prov":"AB","year":2008,"val":83},{"prov":"AB","year":2009,"val":83},{"prov":"AB","year":2010,"val":53.5},{"prov":"AB","year":2011,"val":55},{"prov":"AB","year":2012,"val":85},{"prov":"AB","year":2013,"val":107},{"prov":"AB","year":2014,"val":101.7},{"prov":"AB","year":2015,"val":68},{"prov":"AB","year":2016,"val":45},{"prov":"AB","year":2017,"val":38},{"prov":"AB","year":2018,"val":53.5},{"prov":"AB","year":2019,"val":63},{"prov":"AB","year":2020,"val":53.5},{"prov":"AB","year":2021,"val":22.7},{"prov":"AB","year":2022,"val":78},{"prov":"AB","year":2023,"val":172},
{"prov":"BC","year":1985,"val":28},{"prov":"BC","year":1986,"val":28},{"prov":"BC","year":1987,"val":45},{"prov":"BC","year":1988,"val":67},{"prov":"BC","year":1989,"val":83},{"prov":"BC","year":1990,"val":95},{"prov":"BC","year":1991,"val":80},{"prov":"BC","year":1992,"val":98},{"prov":"BC","year":1993,"val":102},{"prov":"BC","year":1994,"val":110},{"prov":"BC","year":1995,"val":102},{"prov":"BC","year":1996,"val":95},{"prov":"BC","year":1997,"val":74},{"prov":"BC","year":1998,"val":33},{"prov":"BC","year":1999,"val":29},{"prov":"BC","year":2000,"val":29},{"prov":"BC","year":2001,"val":38},{"prov":"BC","year":2002,"val":23},{"prov":"BC","year":2003,"val":29},{"prov":"BC","year":2004,"val":38},{"prov":"BC","year":2005,"val":45},{"prov":"BC","year":2006,"val":49.5},{"prov":"BC","year":2007,"val":53.5},{"prov":"BC","year":2008,"val":61.5},{"prov":"BC","year":2009,"val":63},{"prov":"BC","year":2010,"val":55},{"prov":"BC","year":2011,"val":38},{"prov":"BC","year":2012,"val":65},{"prov":"BC","year":2013,"val":68},{"prov":"BC","year":2014,"val":80},{"prov":"BC","year":2015,"val":53.5},{"prov":"BC","year":2016,"val":95},{"prov":"BC","year":2017,"val":71.6},{"prov":"BC","year":2018,"val":87},{"prov":"BC","year":2019,"val":89.6},{"prov":"BC","year":2020,"val":65},{"prov":"BC","year":2021,"val":49.5},{"prov":"BC","year":2022,"val":130},{"prov":"BC","year":2023,"val":172},
{"prov":"MB","year":1985,"val":9.4},{"prov":"MB","year":1986,"val":9.4},{"prov":"MB","year":1987,"val":6.7},{"prov":"MB","year":1988,"val":2.7},{"prov":"MB","year":1989,"val":1.3},{"prov":"MB","year":1990,"val":0},{"prov":"MB","year":1991,"val":1.3},{"prov":"MB","year":1992,"val":2.7},{"prov":"MB","year":1993,"val":2.7},{"prov":"MB","year":1994,"val":4.7},{"prov":"MB","year":1995,"val":2.7},{"prov":"MB","year":1996,"val":1.3},{"prov":"MB","year":1997,"val":1.3},{"prov":"MB","year":1998,"val":0},{"prov":"MB","year":1999,"val":2.7},{"prov":"MB","year":2000,"val":4.7},{"prov":"MB","year":2001,"val":4.7},{"prov":"MB","year":2002,"val":4.7},{"prov":"MB","year":2003,"val":6.7},{"prov":"MB","year":2004,"val":11.4},{"prov":"MB","year":2005,"val":4.7},{"prov":"MB","year":2006,"val":6.7},{"prov":"MB","year":2007,"val":8},{"prov":"MB","year":2008,"val":9.4},{"prov":"MB","year":2009,"val":13.4},{"prov":"MB","year":2010,"val":11.4},{"prov":"MB","year":2011,"val":13.4},{"prov":"MB","year":2012,"val":16},{"prov":"MB","year":2013,"val":13.4},{"prov":"MB","year":2014,"val":14.7},{"prov":"MB","year":2015,"val":18},{"prov":"MB","year":2016,"val":22.7},{"prov":"MB","year":2017,"val":20},{"prov":"MB","year":2018,"val":18},{"prov":"MB","year":2019,"val":15},{"prov":"MB","year":2020,"val":13.4},{"prov":"MB","year":2021,"val":11.4},{"prov":"MB","year":2022,"val":20},{"prov":"MB","year":2023,"val":41.5},
{"prov":"NB","year":1985,"val":2},{"prov":"NB","year":1986,"val":3},{"prov":"NB","year":1987,"val":4.7},{"prov":"NB","year":1988,"val":6.7},{"prov":"NB","year":1989,"val":8},{"prov":"NB","year":1990,"val":8},{"prov":"NB","year":1991,"val":6.7},{"prov":"NB","year":1992,"val":4.7},{"prov":"NB","year":1993,"val":2.7},{"prov":"NB","year":1994,"val":2},{"prov":"NB","year":1995,"val":1.3},{"prov":"NB","year":1996,"val":0},{"prov":"NB","year":1997,"val":-1.3},{"prov":"NB","year":1998,"val":-1.3},{"prov":"NB","year":1999,"val":-0.7},{"prov":"NB","year":2000,"val":-0.7},{"prov":"NB","year":2001,"val":-1.3},{"prov":"NB","year":2002,"val":-0.7},{"prov":"NB","year":2003,"val":0},{"prov":"NB","year":2004,"val":0.7},{"prov":"NB","year":2005,"val":0},{"prov":"NB","year":2006,"val":0.7},{"prov":"NB","year":2007,"val":2},{"prov":"NB","year":2008,"val":3.3},{"prov":"NB","year":2009,"val":3.3},{"prov":"NB","year":2010,"val":3.3},{"prov":"NB","year":2011,"val":2},{"prov":"NB","year":2012,"val":1.3},{"prov":"NB","year":2013,"val":1.3},{"prov":"NB","year":2014,"val":2},{"prov":"NB","year":2015,"val":2.7},{"prov":"NB","year":2016,"val":4},{"prov":"NB","year":2017,"val":5.4},{"prov":"NB","year":2018,"val":6.7},{"prov":"NB","year":2019,"val":8},{"prov":"NB","year":2020,"val":9.4},{"prov":"NB","year":2021,"val":10},{"prov":"NB","year":2022,"val":21},{"prov":"NB","year":2023,"val":25},
{"prov":"NL","year":1985,"val":-2},{"prov":"NL","year":1986,"val":-1},{"prov":"NL","year":1987,"val":0},{"prov":"NL","year":1988,"val":1.3},{"prov":"NL","year":1989,"val":0.7},{"prov":"NL","year":1990,"val":0},{"prov":"NL","year":1991,"val":-1},{"prov":"NL","year":1992,"val":-1.3},{"prov":"NL","year":1993,"val":-2},{"prov":"NL","year":1994,"val":-4},{"prov":"NL","year":1995,"val":-6},{"prov":"NL","year":1996,"val":-7.4},{"prov":"NL","year":1997,"val":-9.4},{"prov":"NL","year":1998,"val":-10.7},{"prov":"NL","year":1999,"val":-8},{"prov":"NL","year":2000,"val":-6},{"prov":"NL","year":2001,"val":-4.7},{"prov":"NL","year":2002,"val":-2.7},{"prov":"NL","year":2003,"val":-2},{"prov":"NL","year":2004,"val":-2.7},{"prov":"NL","year":2005,"val":-4},{"prov":"NL","year":2006,"val":-2},{"prov":"NL","year":2007,"val":1.3},{"prov":"NL","year":2008,"val":5.4},{"prov":"NL","year":2009,"val":6.7},{"prov":"NL","year":2010,"val":6.7},{"prov":"NL","year":2011,"val":5.4},{"prov":"NL","year":2012,"val":4.7},{"prov":"NL","year":2013,"val":4},{"prov":"NL","year":2014,"val":3.3},{"prov":"NL","year":2015,"val":3.3},{"prov":"NL","year":2016,"val":2.7},{"prov":"NL","year":2017,"val":2.7},{"prov":"NL","year":2018,"val":2},{"prov":"NL","year":2019,"val":2},{"prov":"NL","year":2020,"val":2.7},{"prov":"NL","year":2021,"val":2.7},{"prov":"NL","year":2022,"val":4},{"prov":"NL","year":2023,"val":8},
{"prov":"NS","year":1985,"val":8},{"prov":"NS","year":1986,"val":6.7},{"prov":"NS","year":1987,"val":5.4},{"prov":"NS","year":1988,"val":4.7},{"prov":"NS","year":1989,"val":4.7},{"prov":"NS","year":1990,"val":4},{"prov":"NS","year":1991,"val":4.7},{"prov":"NS","year":1992,"val":4},{"prov":"NS","year":1993,"val":2.7},{"prov":"NS","year":1994,"val":2},{"prov":"NS","year":1995,"val":1.3},{"prov":"NS","year":1996,"val":0},{"prov":"NS","year":1997,"val":0},{"prov":"NS","year":1998,"val":0.7},{"prov":"NS","year":1999,"val":1.3},{"prov":"NS","year":2000,"val":0},{"prov":"NS","year":2001,"val":-1.3},{"prov":"NS","year":2002,"val":0},{"prov":"NS","year":2003,"val":0.7},{"prov":"NS","year":2004,"val":-0.7},{"prov":"NS","year":2005,"val":-2},{"prov":"NS","year":2006,"val":-2.7},{"prov":"NS","year":2007,"val":-1.3},{"prov":"NS","year":2008,"val":-0.7},{"prov":"NS","year":2009,"val":0},{"prov":"NS","year":2010,"val":0},{"prov":"NS","year":2011,"val":-1.3},{"prov":"NS","year":2012,"val":-4},{"prov":"NS","year":2013,"val":-6},{"prov":"NS","year":2014,"val":-4},{"prov":"NS","year":2015,"val":-1.3},{"prov":"NS","year":2016,"val":4},{"prov":"NS","year":2017,"val":8},{"prov":"NS","year":2018,"val":10.7},{"prov":"NS","year":2019,"val":12},{"prov":"NS","year":2020,"val":14},{"prov":"NS","year":2021,"val":14},{"prov":"NS","year":2022,"val":25},{"prov":"NS","year":2023,"val":31.4},
{"prov":"ON","year":1985,"val":127},{"prov":"ON","year":1986,"val":143},{"prov":"ON","year":1987,"val":200},{"prov":"ON","year":1988,"val":199},{"prov":"ON","year":1989,"val":264},{"prov":"ON","year":1990,"val":192},{"prov":"ON","year":1991,"val":135},{"prov":"ON","year":1992,"val":128},{"prov":"ON","year":1993,"val":118},{"prov":"ON","year":1994,"val":125},{"prov":"ON","year":1995,"val":128},{"prov":"ON","year":1996,"val":132},{"prov":"ON","year":1997,"val":140},{"prov":"ON","year":1998,"val":143},{"prov":"ON","year":1999,"val":138},{"prov":"ON","year":2000,"val":177},{"prov":"ON","year":2001,"val":214},{"prov":"ON","year":2002,"val":195},{"prov":"ON","year":2003,"val":150},{"prov":"ON","year":2004,"val":142},{"prov":"ON","year":2005,"val":135},{"prov":"ON","year":2006,"val":128},{"prov":"ON","year":2007,"val":102},{"prov":"ON","year":2008,"val":118},{"prov":"ON","year":2009,"val":112},{"prov":"ON","year":2010,"val":136},{"prov":"ON","year":2011,"val":127},{"prov":"ON","year":2012,"val":128},{"prov":"ON","year":2013,"val":116},{"prov":"ON","year":2014,"val":105},{"prov":"ON","year":2015,"val":92},{"prov":"ON","year":2016,"val":167},{"prov":"ON","year":2017,"val":202},{"prov":"ON","year":2018,"val":247},{"prov":"ON","year":2019,"val":245},{"prov":"ON","year":2020,"val":187},{"prov":"ON","year":2021,"val":80},{"prov":"ON","year":2022,"val":297},{"prov":"ON","year":2023,"val":480},
{"prov":"PE","year":1985,"val":1.3},{"prov":"PE","year":1986,"val":1},{"prov":"PE","year":1987,"val":1},{"prov":"PE","year":1988,"val":0.7},{"prov":"PE","year":1989,"val":0.7},{"prov":"PE","year":1990,"val":0.7},{"prov":"PE","year":1991,"val":0.5},{"prov":"PE","year":1992,"val":0.7},{"prov":"PE","year":1993,"val":0.7},{"prov":"PE","year":1994,"val":1},{"prov":"PE","year":1995,"val":1},{"prov":"PE","year":1996,"val":0.7},{"prov":"PE","year":1997,"val":0.5},{"prov":"PE","year":1998,"val":0.3},{"prov":"PE","year":1999,"val":0.3},{"prov":"PE","year":2000,"val":0.3},{"prov":"PE","year":2001,"val":0.2},{"prov":"PE","year":2002,"val":0.3},{"prov":"PE","year":2003,"val":0.5},{"prov":"PE","year":2004,"val":0.5},{"prov":"PE","year":2005,"val":0.3},{"prov":"PE","year":2006,"val":0.2},{"prov":"PE","year":2007,"val":0.3},{"prov":"PE","year":2008,"val":0.7},{"prov":"PE","year":2009,"val":1},{"prov":"PE","year":2010,"val":1.3},{"prov":"PE","year":2011,"val":1.5},{"prov":"PE","year":2012,"val":0.7},{"prov":"PE","year":2013,"val":0.3},{"prov":"PE","year":2014,"val":0.5},{"prov":"PE","year":2015,"val":0.8},{"prov":"PE","year":2016,"val":2},{"prov":"PE","year":2017,"val":2.5},{"prov":"PE","year":2018,"val":2.7},{"prov":"PE","year":2019,"val":3},{"prov":"PE","year":2020,"val":3.3},{"prov":"PE","year":2021,"val":3},{"prov":"PE","year":2022,"val":4.7},{"prov":"PE","year":2023,"val":6},
{"prov":"QC","year":1985,"val":35},{"prov":"QC","year":1986,"val":43},{"prov":"QC","year":1987,"val":72},{"prov":"QC","year":1988,"val":53.5},{"prov":"QC","year":1989,"val":88},{"prov":"QC","year":1990,"val":70},{"prov":"QC","year":1991,"val":55},{"prov":"QC","year":1992,"val":41.5},{"prov":"QC","year":1993,"val":31.4},{"prov":"QC","year":1994,"val":27},{"prov":"QC","year":1995,"val":28},{"prov":"QC","year":1996,"val":27},{"prov":"QC","year":1997,"val":18},{"prov":"QC","year":1998,"val":29},{"prov":"QC","year":1999,"val":36},{"prov":"QC","year":2000,"val":45},{"prov":"QC","year":2001,"val":48},{"prov":"QC","year":2002,"val":45},{"prov":"QC","year":2003,"val":49.5},{"prov":"QC","year":2004,"val":47},{"prov":"QC","year":2005,"val":55},{"prov":"QC","year":2006,"val":65},{"prov":"QC","year":2007,"val":72},{"prov":"QC","year":2008,"val":83},{"prov":"QC","year":2009,"val":88},{"prov":"QC","year":2010,"val":74},{"prov":"QC","year":2011,"val":53.5},{"prov":"QC","year":2012,"val":47},{"prov":"QC","year":2013,"val":38},{"prov":"QC","year":2014,"val":28},{"prov":"QC","year":2015,"val":30},{"prov":"QC","year":2016,"val":68},{"prov":"QC","year":2017,"val":92},{"prov":"QC","year":2018,"val":95},{"prov":"QC","year":2019,"val":90},{"prov":"QC","year":2020,"val":70},{"prov":"QC","year":2021,"val":20},{"prov":"QC","year":2022,"val":100},{"prov":"QC","year":2023,"val":175},
{"prov":"SK","year":1985,"val":11.4},{"prov":"SK","year":1986,"val":8},{"prov":"SK","year":1987,"val":1.3},{"prov":"SK","year":1988,"val":-5.4},{"prov":"SK","year":1989,"val":-10.7},{"prov":"SK","year":1990,"val":-5.4},{"prov":"SK","year":1991,"val":1.3},{"prov":"SK","year":1992,"val":4.7},{"prov":"SK","year":1993,"val":6.7},{"prov":"SK","year":1994,"val":4.7},{"prov":"SK","year":1995,"val":8},{"prov":"SK","year":1996,"val":1.3},{"prov":"SK","year":1997,"val":0},{"prov":"SK","year":1998,"val":-2},{"prov":"SK","year":1999,"val":-5.4},{"prov":"SK","year":2000,"val":-8.7},{"prov":"SK","year":2001,"val":-4},{"prov":"SK","year":2002,"val":0},{"prov":"SK","year":2003,"val":1.3},{"prov":"SK","year":2004,"val":-5.4},{"prov":"SK","year":2005,"val":-2},{"prov":"SK","year":2006,"val":11.4},{"prov":"SK","year":2007,"val":16},{"prov":"SK","year":2008,"val":18},{"prov":"SK","year":2009,"val":16},{"prov":"SK","year":2010,"val":18},{"prov":"SK","year":2011,"val":14.7},{"prov":"SK","year":2012,"val":13.4},{"prov":"SK","year":2013,"val":14.7},{"prov":"SK","year":2014,"val":11.4},{"prov":"SK","year":2015,"val":13.4},{"prov":"SK","year":2016,"val":11.4},{"prov":"SK","year":2017,"val":9.4},{"prov":"SK","year":2018,"val":8},{"prov":"SK","year":2019,"val":8},{"prov":"SK","year":2020,"val":4},{"prov":"SK","year":2021,"val":-1},{"prov":"SK","year":2022,"val":11.4},{"prov":"SK","year":2023,"val":31.4}
]},
"vconcat":[
{"data":{"name":"total"},
"facet":{"column":{"field":"prov","type":"nominal","header":{"labels":false,"title":null}}},
"spacing":15.5,"bounds":"flush",
"spec":{"width":241,"height":362,"layer":[
{"mark":{"type":"rule","color":"black","strokeWidth":2.5,"strokeDash":[3,8.5]},"transform":[{"aggregate":[{"op":"count","as":"n"}],"groupby":["prov"]}],
"encoding":{"x":{"datum":2020,"type":"quantitative"},"y":{"datum":-5.45e7,"type":"quantitative"},"y2":{"datum":1.2047e9}}},
{"mark":{"type":"line","color":"black","strokeWidth":2.3},
"encoding":{"x":{"field":"year","type":"quantitative","scale":{"domain":[1983,2031],"nice":false,"zero":false},"axis":{"values":[1985,2005,2025],"format":"d"}},
"y":{"field":"val","type":"quantitative","scale":{"domain":[-5.45e7,1.63376e9],"nice":false,"zero":false},"axis":{"values":[0,3e8,6e8,9e8,1.2e9],"labelExpr":"datum.value < 1 ? '0 × 10⁺⁰' : datum.value < 4e8 ? '3 × 10⁺⁸' : datum.value < 7e8 ? '6 × 10⁺⁸' : datum.value < 1e9 ? '9 × 10⁺⁸' : '1.2 × 10⁺⁹'","title":"Total expenditure"}}}},
{"mark":{"type":"point","filled":true,"color":"black","opacity":1,"size":140},
"encoding":{"x":{"field":"year","type":"quantitative"},"y":{"field":"val","type":"quantitative"}}},
{"mark":{"type":"rule","color":"black","strokeWidth":3},"transform":[{"aggregate":[{"op":"count","as":"n"}],"groupby":["prov"]}],
"encoding":{"y":{"datum":1.2047e9,"type":"quantitative"}}},
{"mark":{"type":"text","fontSize":34,"fontWeight":"bold","color":"#1a1a1a","clip":true,"baseline":"middle","align":"center"},
"transform":[{"aggregate":[{"op":"count","as":"n"}],"groupby":["prov"]},{"filter":"indexof(['BC','NL','PE'], datum.prov) < 0"},{"calculate":"{'AB':'Alberta','MB':'Manitoba','NB':'New Brunswick','NS':'Nova Scotia','ON':'Ontario','QC':'Quebec','SK':'Saskatchewan'}[datum.prov]","as":"label"}],
"encoding":{"x":{"datum":2007,"type":"quantitative"},"y":{"datum":1.4192e9,"type":"quantitative"},"text":{"field":"label"}}},
{"mark":{"type":"text","fontSize":34,"fontWeight":"bold","color":"#1a1a1a","clip":true,"lineBreak":"\n","lineHeight":37,"baseline":"middle","align":"center","dy":-18.5},
"transform":[{"aggregate":[{"op":"count","as":"n"}],"groupby":["prov"]},{"filter":"indexof(['BC','NL','PE'], datum.prov) >= 0"},{"calculate":"{'BC':'British\\nColumbia','NL':'Newfoundland\\nand Labrador','PE':'Prince Edward\\nIsland'}[datum.prov]","as":"label"}],
"encoding":{"x":{"datum":2007,"type":"quantitative"},"y":{"datum":1.4192e9,"type":"quantitative"},"text":{"field":"label"}}}
]}},
{"data":{"name":"percap"},
"facet":{"column":{"field":"prov","type":"nominal","header":{"labels":false,"title":null}}},
"spacing":15.5,"bounds":"flush",
"spec":{"width":241,"height":362,"layer":[
{"mark":{"type":"rule","color":"black","strokeWidth":2.5,"strokeDash":[3,8.5]},"transform":[{"aggregate":[{"op":"count","as":"n"}],"groupby":["prov"]}],
"encoding":{"x":{"datum":2020,"type":"quantitative"},"y":{"datum":-3.76,"type":"quantitative"},"y2":{"datum":164.21}}},
{"mark":{"type":"line","color":"black","strokeWidth":2.3},
"encoding":{"x":{"field":"year","type":"quantitative","scale":{"domain":[1983,2031],"nice":false,"zero":false},"axis":{"values":[1985,2005,2025],"format":"d"}},
"y":{"field":"val","type":"quantitative","scale":{"domain":[-3.76,221.44],"nice":false,"zero":false},"axis":{"values":[0,50,100,150],"labelExpr":"datum.value < 1 ? '0 × 10⁺⁰' : datum.value < 60 ? '5 × 10⁺¹' : datum.value < 120 ? '1 × 10⁺²' : '1.5 × 10⁺²'","title":"Per capita expenditure"}}}},
{"mark":{"type":"point","filled":true,"color":"black","opacity":1,"size":140},
"encoding":{"x":{"field":"year","type":"quantitative"},"y":{"field":"val","type":"quantitative"}}},
{"mark":{"type":"rule","color":"black","strokeWidth":3},"transform":[{"aggregate":[{"op":"count","as":"n"}],"groupby":["prov"]}],
"encoding":{"y":{"datum":164.21,"type":"quantitative"}}},
{"mark":{"type":"text","fontSize":34,"fontWeight":"bold","color":"#1a1a1a","clip":true,"baseline":"middle","align":"center"},
"transform":[{"aggregate":[{"op":"count","as":"n"}],"groupby":["prov"]},{"filter":"indexof(['BC','NL','PE'], datum.prov) < 0"},{"calculate":"{'AB':'Alberta','MB':'Manitoba','NB':'New Brunswick','NS':'Nova Scotia','ON':'Ontario','QC':'Quebec','SK':'Saskatchewan'}[datum.prov]","as":"label"}],
"encoding":{"x":{"datum":2007,"type":"quantitative"},"y":{"datum":192.83,"type":"quantitative"},"text":{"field":"label"}}},
{"mark":{"type":"text","fontSize":34,"fontWeight":"bold","color":"#1a1a1a","clip":true,"lineBreak":"\n","lineHeight":37,"baseline":"middle","align":"center","dy":-18.5},
"transform":[{"aggregate":[{"op":"count","as":"n"}],"groupby":["prov"]},{"filter":"indexof(['BC','NL','PE'], datum.prov) >= 0"},{"calculate":"{'BC':'British\\nColumbia','NL':'Newfoundland\\nand Labrador','PE':'Prince Edward\\nIsland'}[datum.prov]","as":"label"}],
"encoding":{"x":{"datum":2007,"type":"quantitative"},"y":{"datum":192.83,"type":"quantitative"},"text":{"field":"label"}}}
]}},
{"data":{"name":"popchg"},
"title":{"text":"Year","orient":"bottom","anchor":"middle","frame":"bounds","fontSize":38,"fontWeight":"bold","color":"black","offset":28},
"facet":{"column":{"field":"prov","type":"nominal","header":{"labels":false,"title":null}}},
"spacing":15.5,"bounds":"flush",
"spec":{"width":241,"height":362,"layer":[
{"mark":{"type":"rule","color":"black","strokeWidth":2.5,"strokeDash":[3,8.5]},"transform":[{"aggregate":[{"op":"count","as":"n"}],"groupby":["prov"]}],
"encoding":{"x":{"datum":2020,"type":"quantitative"},"y":{"datum":-35.5,"type":"quantitative"},"y2":{"datum":504.7}}},
{"mark":{"type":"line","color":"black","strokeWidth":2.3},
"encoding":{"x":{"field":"year","type":"quantitative","scale":{"domain":[1983,2031],"nice":false,"zero":false},"axis":{"values":[1985,2005,2025],"format":"d"}},
"y":{"field":"val","type":"quantitative","scale":{"domain":[-35.5,688.77],"nice":false,"zero":false},"axis":{"values":[0,100,200,300,400,500],"labelExpr":"datum.value < 1 ? '0 × 10⁺⁰' : '' + round(datum.value/100) + ' × 10⁺²'","title":["Population change","from prior year","(thousands)"]}}}},
{"mark":{"type":"point","filled":true,"color":"black","opacity":1,"size":140},
"encoding":{"x":{"field":"year","type":"quantitative"},"y":{"field":"val","type":"quantitative"}}},
{"mark":{"type":"rule","color":"black","strokeWidth":3},"transform":[{"aggregate":[{"op":"count","as":"n"}],"groupby":["prov"]}],
"encoding":{"y":{"datum":504.7,"type":"quantitative"}}},
{"mark":{"type":"text","fontSize":34,"fontWeight":"bold","color":"#1a1a1a","clip":true,"baseline":"middle","align":"center"},
"transform":[{"aggregate":[{"op":"count","as":"n"}],"groupby":["prov"]},{"filter":"indexof(['BC','NL','PE'], datum.prov) < 0"},{"calculate":"{'AB':'Alberta','MB':'Manitoba','NB':'New Brunswick','NS':'Nova Scotia','ON':'Ontario','QC':'Quebec','SK':'Saskatchewan'}[datum.prov]","as":"label"}],
"encoding":{"x":{"datum":2007,"type":"quantitative"},"y":{"datum":596.7,"type":"quantitative"},"text":{"field":"label"}}},
{"mark":{"type":"text","fontSize":34,"fontWeight":"bold","color":"#1a1a1a","clip":true,"lineBreak":"\n","lineHeight":37,"baseline":"middle","align":"center","dy":-18.5},
"transform":[{"aggregate":[{"op":"count","as":"n"}],"groupby":["prov"]},{"filter":"indexof(['BC','NL','PE'], datum.prov) >= 0"},{"calculate":"{'BC':'British\\nColumbia','NL':'Newfoundland\\nand Labrador','PE':'Prince Edward\\nIsland'}[datum.prov]","as":"label"}],
"encoding":{"x":{"datum":2007,"type":"quantitative"},"y":{"datum":596.7,"type":"quantitative"},"text":{"field":"label"}}}
]}}
]}
